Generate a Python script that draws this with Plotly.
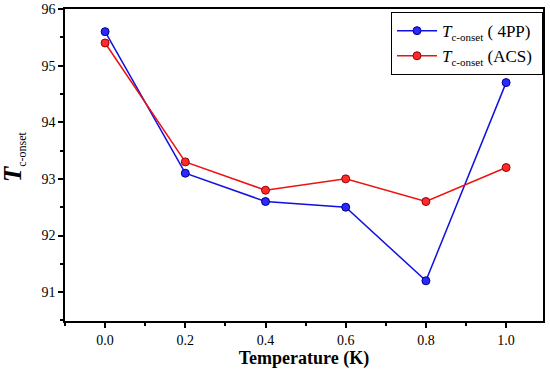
import plotly.graph_objects as go

temps = [0.0, 0.2, 0.4, 0.6, 0.8, 1.0]
tc_4pp = [95.6, 93.1, 92.6, 92.5, 91.2, 94.7]
tc_acs = [95.4, 93.3, 92.8, 93.0, 92.6, 93.2]
x_ticks = [0.0, 0.2, 0.4, 0.6, 0.8, 1.0]
x_labels = ["0.0", "0.2", "0.4", "0.6", "0.8", "1.0"]
y_ticks = [91, 92, 93, 94, 95, 96]

FONT = "Liberation Serif, Times New Roman, serif"

fig = go.Figure()
fig.add_trace(go.Scatter(
    x=temps, y=tc_4pp, mode="lines+markers",
    name="<i>T</i><sub><span style='font-size:11px'>c-onset</span></sub> ( 4PP) ",
    line=dict(color="#1010e0", width=1.5),
    marker=dict(size=8, color="#2a2aff", line=dict(color="#00008a", width=1)),
))
fig.add_trace(go.Scatter(
    x=temps, y=tc_acs, mode="lines+markers",
    name="<i>T</i><sub><span style='font-size:11px'>c-onset</span></sub> (ACS) ",
    line=dict(color="#ee1111", width=1.5),
    marker=dict(size=8, color="#ff2a2a", line=dict(color="#990000", width=1)),
))

fig.update_layout(
    width=550, height=376,
    margin=dict(l=65, r=7, t=9, b=55, autoexpand=False),
    paper_bgcolor="white", plot_bgcolor="white",
    font=dict(family=FONT, size=14, color="black"),
    showlegend=True,
    legend=dict(
        x=1, y=0.99, xanchor="right", yanchor="top",
        bordercolor="black", borderwidth=1, bgcolor="white",
        font=dict(family=FONT, size=17, color="black"),
        tracegroupgap=0, itemwidth=40,
    ),
    xaxis=dict(
        range=[-0.1, 1.092], automargin=False,
        tickvals=x_ticks, ticktext=x_labels,
        ticks="outside", ticklen=5, tickwidth=1.5, tickcolor="black",
        showline=True, linecolor="black", linewidth=1.5, mirror=True,
        showgrid=False, zeroline=False,
        minor=dict(dtick=0.1, ticks="outside", ticklen=3, tickwidth=1.5, tickcolor="black"),
        tickfont=dict(family=FONT, size=14),
        title=dict(text="<b>Temperature (K)</b>", font=dict(family=FONT, size=18), standoff=4),
    ),
    yaxis=dict(
        range=[90.49, 96], automargin=False,
        tickvals=y_ticks,
        ticks="outside", ticklen=5, tickwidth=1.5, tickcolor="black",
        showline=True, linecolor="black", linewidth=1.5, mirror=True,
        showgrid=False, zeroline=False,
        minor=dict(dtick=0.5, ticks="outside", ticklen=3, tickwidth=1.5, tickcolor="black"),
        tickfont=dict(family=FONT, size=14),
    ),
)

fig.add_annotation(
    text="<b><i>T</i></b><sub><span style='font-size:12px'>c-onset</span></sub>",
    xref="paper", yref="paper", x=0, y=0.5,
    xanchor="center", yanchor="middle", xshift=-51, yshift=8,
    textangle=-90, showarrow=False,
    font=dict(family=FONT, size=25, color="black"),
)

fig.write_html(
    "out.html",
    config={"displayModeBar": False},
    post_script="document.body.style.margin='0';document.body.style.padding='0';",
)
